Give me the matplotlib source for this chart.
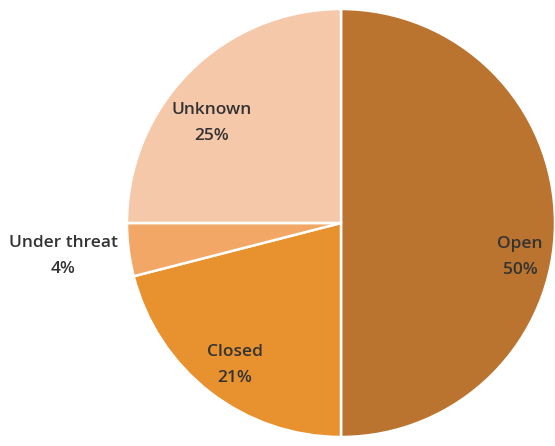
import matplotlib
matplotlib.use("Agg")
import matplotlib.pyplot as plt

# Status shares
categories = ["Open", "Closed", "Under threat", "Unknown"]
shares = [50, 21, 4, 25]
colors = ["#BA7430", "#E8912F", "#F2A766", "#F6C8AA"]

# Label anchor points (figure pixel coordinates, origin top-left)
label_xy = {
    "Open": (520, 257),
    "Closed": (235, 365),
    "Under threat": (63, 256),
    "Unknown": (212, 123),
}

W, H = 555, 446
fig = plt.figure(figsize=(W / 100, H / 100), dpi=100)
ax = fig.add_axes([0, 0, 1, 1])

cx, cy, r = 341, H - 223, 214
ax.pie(shares, colors=colors, startangle=90, counterclock=False,
       center=(cx, cy), radius=r, frame=True,
       wedgeprops=dict(edgecolor="white", linewidth=1.8))
ax.set_xlim(0, W)
ax.set_ylim(0, H)
ax.set_aspect("equal")
ax.axis("off")

for name, val in zip(categories, shares):
    x, y = label_xy[name]
    ax.text(x, H - y, f"{name}\n{val}%", ha="center", va="center",
            fontsize=12.5, fontweight="semibold", family="Open Sans",
            color="#333333", linespacing=1.8)

fig.savefig("out.png", dpi=100)
